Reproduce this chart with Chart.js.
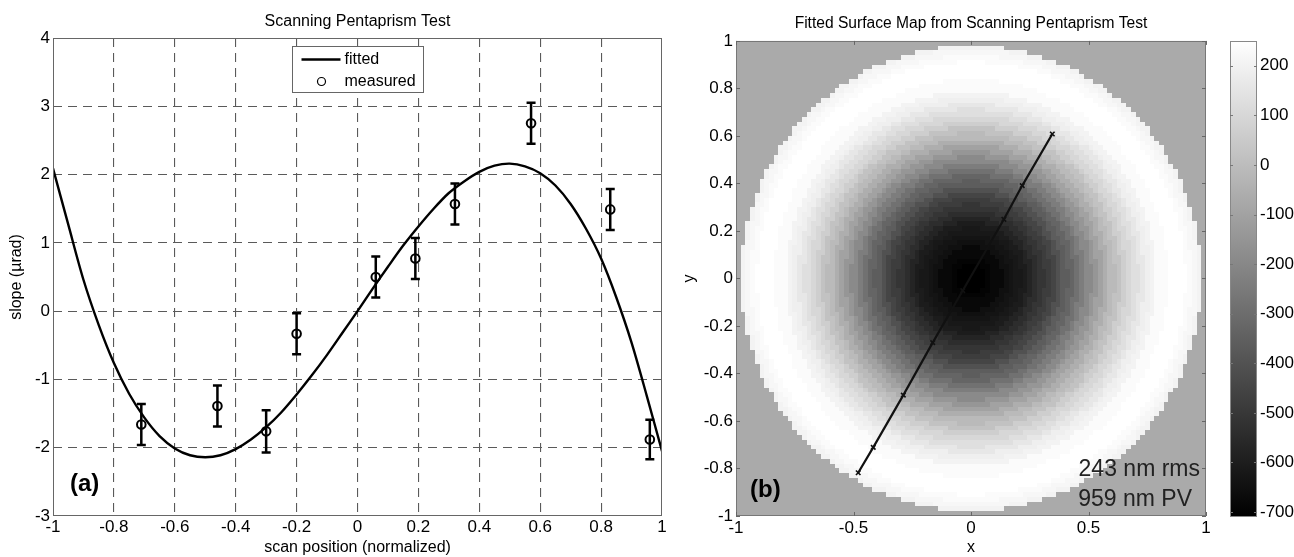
<!DOCTYPE html>
<html>
<head>
<meta charset="utf-8">
<title>Scanning Pentaprism Test</title>
<script src="https://cdn.jsdelivr.net/npm/chart.js@4/dist/chart.umd.min.js"></script>
<style>
body{margin:0;background:#fff;width:1294px;height:557px;position:relative;overflow:hidden}
canvas{position:absolute;top:0}
#slopeChart{left:0}
#mapChart{left:680px}
#barChart{left:1220px}
</style>
</head>
<body>
<canvas id="slopeChart" width="680" height="557"></canvas>
<canvas id="mapChart" width="540" height="557"></canvas>
<canvas id="barChart" width="74" height="557"></canvas>
<script>

/* =========================
PANEL (a) - SLOPE DATA
========================= */

const fitX = [-1.00,-0.95,-0.90,-0.85,-0.80,-0.75,-0.70,-0.65,-0.60,-0.55,-0.50,-0.45,-0.40,-0.35,-0.30,-0.25,-0.20,-0.15,-0.10,-0.05,
0.00,0.05,0.10,0.15,0.20,0.25,0.30,0.35,0.40,0.45,0.50,0.55,0.60,0.65,0.70,0.75,0.80,0.85,0.90,0.95,1.00]

const fitY = [2.09,1.27,0.46,-0.20,-0.76,-1.21,-1.56,-1.83,-2.01,-2.11,-2.14,-2.11,-2.02,-1.88,-1.70,-1.48,-1.22,-0.94,-0.64,-0.32,
0.00,0.33,0.65,0.96,1.24,1.50,1.73,1.90,2.04,2.13,2.16,2.12,2.02,1.84,1.57,1.21,0.77,0.20,-0.46,-1.24,-2.05]

const measX = [-0.71,-0.46,-0.30,-0.20,0.06,0.19,0.32,0.57,0.83,0.96]
const measY = [-1.66,-1.39,-1.76,-0.33,0.50,0.77,1.57,2.75,1.49,-1.88]
const measErr = [0.30,0.30,0.31,0.30,0.30,0.30,0.30,0.30,0.30,0.29]

/* =========================
PANEL (b) - SURFACE DATA
========================= */

// radial profile of the fitted surface (nm)
const profileR = [0,0.025,0.05,0.075,0.1,0.125,0.15,0.175,0.2,0.225,0.25,0.275,0.3,0.325,0.35,0.375,0.4,0.425,0.45,0.475,
0.5,0.525,0.55,0.575,0.6,0.625,0.65,0.675,0.7,0.725,0.75,0.775,0.8,0.825,0.85,0.875,0.9,0.925,0.95,0.975]
const profileZ = [-710,-707,-700,-691,-679,-666,-650,-633,-614,-591,-566,-539,-508,-476,-441,-403,-364,-322,-278,-235,
-192,-148,-105,-62,-19,20,58,93,125,154,183,202,221,233,240,242,240,233,217,202]

const scanX = [0.346,0.218,0.140,-0.035,-0.163,-0.288,-0.416,-0.480]
const scanY = [0.608,0.391,0.249,-0.051,-0.270,-0.491,-0.711,-0.818]

const cbMin = -710
const cbMax = 250
const cbTicks = [-700,-600,-500,-400,-300,-200,-100,0,100,200]

const statLines = ["243 nm rms","959 nm PV"]

// grid of map cells built from the profile
const cellStep = 0.02
const pupilR = 0.98
const cells = []
for(let i=0;i<100;i++){
for(let j=0;j<100;j++){
let cx = -1 + cellStep*(i+0.5)
let cy = -1 + cellStep*(j+0.5)
let r = Math.hypot(cx,cy)
if(r > pupilR) continue
let k = 0
profileR.forEach((pr,n)=>{ if(Math.abs(pr-r) < Math.abs(profileR[k]-r)) k = n })
cells.push({x:cx, y:cy, z:profileZ[k]})
}
}

function grayFor(z){
let idx = Math.floor((z-cbMin)/(cbMax-cbMin)*64)
idx = Math.max(0, Math.min(63, idx))
let g = Math.round(idx/63*255)
return `rgb(${g},${g},${g})`
}

/* =========================
SHARED SETTINGS
========================= */

Chart.defaults.font.family = "'Liberation Sans', Arial, Helvetica, sans-serif"
Chart.defaults.color = "#000"
Chart.defaults.animation = false

const tickFont = {size:17}
const fmt = v => String(+Number(v).toFixed(2))

// dashed grid, but no dashes on the frame edges
const gridColor = ctx => {
const s = ctx.scale
if(ctx.tick && (ctx.tick.value === s.min || ctx.tick.value === s.max)) return "rgba(0,0,0,0)"
return "#5a5a5a"
}

const framePlugin = {
id:"frame",
afterDraw(chart, args, opts){
const {ctx, chartArea:a} = chart
ctx.save()
ctx.strokeStyle = opts.color || "#666"
ctx.lineWidth = 1
ctx.strokeRect(Math.round(a.left)+0.5, Math.round(a.top)+0.5, Math.round(a.width)-1, Math.round(a.height)-1)
ctx.restore()
}
}

const innerTicks = {
id:"innerTicks",
afterDraw(chart, args, opts){
const {ctx, chartArea:a, scales} = chart
const len = opts.len || 4
ctx.save()
ctx.strokeStyle = opts.color || "#666"
ctx.lineWidth = 1
ctx.beginPath()
if(opts.x && scales.x){
scales.x.ticks.forEach(t=>{
let px = Math.round(scales.x.getPixelForValue(t.value))+0.5
ctx.moveTo(px, a.top); ctx.lineTo(px, a.top+len)
ctx.moveTo(px, a.bottom); ctx.lineTo(px, a.bottom-len)
})
}
scales.y.ticks.forEach(t=>{
let py = Math.round(scales.y.getPixelForValue(t.value))+0.5
ctx.moveTo(a.left, py); ctx.lineTo(a.left+len, py)
ctx.moveTo(a.right, py); ctx.lineTo(a.right-len, py)
})
ctx.stroke()
ctx.restore()
}
}

/* =========================
PANEL (a) PLUGINS
========================= */

const errorBars = {
id:"errorBars",
afterDatasetsDraw(chart){
const {ctx, scales:{x, y}} = chart
ctx.save()
ctx.strokeStyle = "#000"
ctx.lineWidth = 2.5
measX.forEach((mx,i)=>{
let px = x.getPixelForValue(mx)
let top = y.getPixelForValue(measY[i]+measErr[i])
let bot = y.getPixelForValue(measY[i]-measErr[i])
ctx.beginPath()
ctx.moveTo(px, top); ctx.lineTo(px, bot)
ctx.moveTo(px-4.5, top); ctx.lineTo(px+4.5, top)
ctx.moveTo(px-4.5, bot); ctx.lineTo(px+4.5, bot)
ctx.stroke()
})
ctx.restore()
}
}

const legendBox = {
id:"legendBox",
afterDraw(chart){
const {ctx, chartArea:a} = chart
const w = 131, h = 46
let left = Math.round((a.left+a.right)/2 - w/2) + 0.5
let top = Math.round(a.top) + 8.5
let labels = chart.data.datasets.map(d => d.label)
ctx.save()
ctx.fillStyle = "#fff"
ctx.fillRect(left, top, w, h)
ctx.strokeStyle = "#666"
ctx.lineWidth = 1
ctx.strokeRect(left, top, w, h)
ctx.strokeStyle = "#000"
ctx.lineWidth = 2.4
ctx.beginPath()
ctx.moveTo(left+9, top+13); ctx.lineTo(left+48, top+13)
ctx.stroke()
ctx.lineWidth = 1.2
ctx.beginPath()
ctx.arc(left+29, top+35, 4, 0, Math.PI*2)
ctx.stroke()
ctx.fillStyle = "#000"
ctx.font = "16px 'Liberation Sans', Arial, sans-serif"
ctx.textBaseline = "middle"
ctx.fillText(labels[0], left+52, top+13)
ctx.fillText(labels[1], left+52, top+35)
ctx.restore()
}
}

const panelLabelA = {
id:"panelLabelA",
afterDraw(chart){
const {ctx, chartArea:a} = chart
ctx.save()
ctx.fillStyle = "#000"
ctx.font = "bold 24px 'Liberation Sans', Arial, sans-serif"
ctx.textBaseline = "middle"
ctx.fillText("(a)", a.left+17, a.bottom-32)
ctx.restore()
}
}

/* =========================
GRAFICO (a)
========================= */

const slopeChart = new Chart(document.getElementById("slopeChart"),{

type:"line",

data:{
datasets:[
{
label:"fitted",
data:fitX.map((x,i)=>({x:x, y:fitY[i]})),
borderColor:"#000",
borderWidth:2.4,
pointRadius:0,
tension:0.3
},
{
label:"measured",
data:measX.map((x,i)=>({x:x, y:measY[i]})),
showLine:false,
pointStyle:"circle",
pointRadius:4.3,
pointBorderWidth:2,
pointBorderColor:"#000",
pointBackgroundColor:"rgba(0,0,0,0)",
borderColor:"#000"
}
]
},

options:{
responsive:false,
layout:{padding:{left:0,right:18,top:0,bottom:0}},
plugins:{
legend:{display:false},
tooltip:{enabled:false},
title:{
display:true,
text:"Scanning Pentaprism Test",
fullSize:false,
color:"#000",
font:{size:16, weight:"normal"},
padding:{top:12.4,bottom:6.4}
},
frame:{color:"#666"}
},
scales:{
x:{
type:"linear",
min:-1, max:1,
ticks:{stepSize:0.2, font:tickFont, padding:1, maxRotation:0, autoSkip:false, callback:fmt},
grid:{color:gridColor, lineWidth:1.1, drawTicks:false},
border:{display:false, dash:[9,6]},
title:{display:true, text:"scan position (normalized)", font:{size:16}, padding:{top:0,bottom:0}},
afterFit:s=>{ s.height = 41 }
},
y:{
min:-3, max:4,
ticks:{stepSize:1, font:tickFont, padding:3, callback:fmt},
grid:{color:gridColor, lineWidth:1.1, drawTicks:false},
border:{display:false, dash:[9,6]},
title:{display:true, text:"slope (µrad)", font:{size:16}, padding:{top:7.4,bottom:0}},
afterFit:s=>{ s.width = 53 }
}
}
},

plugins:[errorBars, framePlugin, legendBox, panelLabelA]

})

/* =========================
PANEL (b) PLUGINS
========================= */

const surfaceMap = {
id:"surfaceMap",
beforeDatasetsDraw(chart){
const {ctx, chartArea:a, scales:{x, y}} = chart
ctx.save()
ctx.fillStyle = "#aaaaaa"
ctx.fillRect(a.left, a.top, a.width, a.height)
cells.forEach(c=>{
let x0 = Math.round(x.getPixelForValue(c.x-cellStep/2))
let x1 = Math.round(x.getPixelForValue(c.x+cellStep/2))
let y0 = Math.round(y.getPixelForValue(c.y+cellStep/2))
let y1 = Math.round(y.getPixelForValue(c.y-cellStep/2))
ctx.fillStyle = grayFor(c.z)
ctx.fillRect(x0, y0, x1-x0, y1-y0)
})
ctx.restore()
}
}

const mapNotes = {
id:"mapNotes",
afterDraw(chart){
const {ctx, chartArea:a} = chart
ctx.save()
ctx.fillStyle = "#000"
ctx.textBaseline = "middle"
ctx.font = "bold 24px 'Liberation Sans', Arial, sans-serif"
ctx.fillText("(b)", a.left+14, a.bottom-26)
ctx.fillStyle = "#222"
ctx.font = "23px 'Liberation Sans', Arial, sans-serif"
ctx.textAlign = "right"
ctx.fillText(statLines[0], a.right-6, a.bottom-46)
ctx.fillText(statLines[1], a.right-14, a.bottom-16)
ctx.restore()
}
}

/* =========================
GRAFICO (b)
========================= */

const mapChart = new Chart(document.getElementById("mapChart"),{

type:"line",

data:{
datasets:[{
label:"scan",
data:scanX.map((x,i)=>({x:x, y:scanY[i]})),
borderColor:"#111",
borderWidth:2.2,
pointStyle:"crossRot",
pointRadius:3.2,
pointBorderWidth:1.6,
pointBorderColor:"#111",
tension:0
}]
},

options:{
responsive:false,
layout:{padding:{left:0,right:14,top:0,bottom:0}},
plugins:{
legend:{display:false},
tooltip:{enabled:false},
title:{
display:true,
text:"Fitted Surface Map from Scanning Pentaprism Test",
fullSize:false,
color:"#000",
font:{size:15.6, weight:"normal"},
padding:{top:14.6,bottom:7.6}
},
frame:{color:"#777"},
innerTicks:{x:true, len:4, color:"#666"}
},
scales:{
x:{
type:"linear",
min:-1, max:1,
ticks:{stepSize:0.5, font:tickFont, padding:2, maxRotation:0, autoSkip:false, callback:fmt},
grid:{display:false, drawTicks:false},
border:{display:false},
title:{display:true, text:"x", font:{size:16}, padding:{top:0,bottom:0}},
afterFit:s=>{ s.height = 41 }
},
y:{
min:-1, max:1,
ticks:{stepSize:0.2, font:tickFont, padding:3, autoSkip:false, callback:fmt},
grid:{display:false, drawTicks:false},
border:{display:false},
title:{display:true, text:"y", font:{size:16}, padding:{top:0.4,bottom:0}},
afterFit:s=>{ s.width = 56 }
}
}
},

plugins:[surfaceMap, framePlugin, innerTicks, mapNotes]

})

/* =========================
COLORBAR
========================= */

const barChart = new Chart(document.getElementById("barChart"),{

type:"bar",

data:{
labels:[""],
datasets:[{
data:[[cbMin, cbMax]],
barPercentage:1,
categoryPercentage:1,
borderWidth:0,
backgroundColor:function(ctx){
const chart = ctx.chart
if(!chart.chartArea) return "#777"
const y = chart.scales.y
const g = chart.ctx.createLinearGradient(0, y.getPixelForValue(cbMin), 0, y.getPixelForValue(cbMax))
g.addColorStop(0, "#000")
g.addColorStop(1, "#fff")
return g
}
}]
},

options:{
responsive:false,
layout:{padding:{left:10,right:0,top:41,bottom:40}},
plugins:{
legend:{display:false},
tooltip:{enabled:false},
frame:{color:"#888"},
innerTicks:{x:false, len:3, color:"#777"}
},
scales:{
x:{display:false},
y:{
position:"right",
min:cbMin, max:cbMax,
afterBuildTicks:s=>{ s.ticks = cbTicks.map(v=>({value:v})) },
ticks:{font:tickFont, padding:3, callback:fmt},
grid:{display:false, drawTicks:false},
border:{display:false},
afterFit:s=>{ s.width = 37 }
}
}
},

plugins:[framePlugin, innerTicks]

})

</script>
</body>
</html>
